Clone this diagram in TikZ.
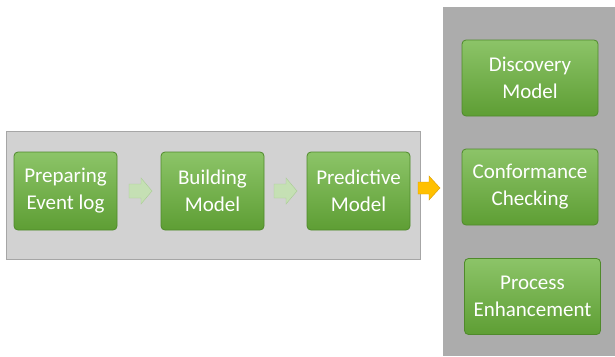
\documentclass[tikz,border=0pt]{standalone}
\usepackage{fontspec}
\setmainfont{Carlito}
\usepackage{xcolor}
\definecolor{stepGreenTop}{HTML}{8CC468}
\definecolor{stepGreenBot}{HTML}{5E9E34}
\definecolor{stepEdge}{HTML}{4F8A2B}
\definecolor{paleArrow}{HTML}{C5E0B4}
\definecolor{paleEdge}{HTML}{A9CC93}
\definecolor{goArrow}{HTML}{FFC000}
\definecolor{goEdge}{HTML}{D99A00}

\begin{document}
\begin{tikzpicture}[x=1pt,y=-1pt,font=\fontsize{21}{27}\selectfont,
  stage/.style={draw=stepEdge, thick, rounded corners=4pt, top color=stepGreenTop,
    bottom color=stepGreenBot, text=white, align=center, inner sep=0pt},
  flow/.style={stage, minimum width=103pt, minimum height=78pt},
  task/.style={stage, minimum width=136pt, minimum height=76pt},
  pale/.style={draw=paleEdge, fill=paleArrow},
  goarrow/.style={draw=goEdge, fill=goArrow}]
\useasboundingbox (0,0) rectangle (615,356);
% panels
\fill[gray!65] (443,7) rectangle (615,356);
\draw[gray!70, fill=gray!35] (6,131) rectangle (420,259);
% pipeline
\node[flow] (prep) at (65.5,191) {Preparing\\Event log};
\node[flow] (build) at (212.5,191) {Building\\Model};
\node[flow] (pred) at (358.5,191) {Predictive\\Model};
% block arrows
\foreach \x in {129,274}{
  \draw[pale] (\x,184) -- ++(12,0) -- ++(0,-6) -- ++(11,13) -- ++(-11,13)
    -- ++(0,-6) -- ++(-12,0) -- cycle;
}
\draw[goarrow] (418,182) -- ++(11,0) -- ++(0,-6) -- ++(11,12) -- ++(-11,12)
  -- ++(0,-6) -- ++(-11,0) -- cycle;
% mining tasks
\node[task] (disc) at (530,78) {Discovery\\Model};
\node[task] (conf) at (530,187) {Conformance\\Checking};
\node[task] (enh) at (532.5,296.5) {Process\\Enhancement};
\end{tikzpicture}
\end{document}
